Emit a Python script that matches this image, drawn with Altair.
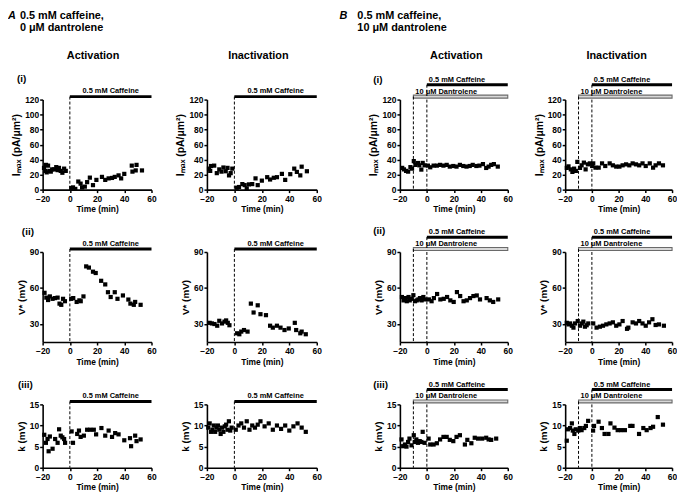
import altair as alt
import pandas as pd

FONT = "Liberation Sans"

# ---------------- data (time in min, values) ----------------
# A: 0.5 mM caffeine, 0 uM dantrolene
A_ACT_IMAX_T = [-19, -18, -17.5, -17, -16, -15, -14, -13, -11.5, -10, -9, -8, -6.7, -5.5, -4.2, -3,
                1, 2.3, 4, 6.2, 7.9, 9, 11, 12.7, 14.7, 17, 19.5, 23.6, 26, 28.5, 31, 33, 35.8, 37.7, 40, 45.5, 46, 48.4, 49, 53]
A_ACT_IMAX_V = [29, 25, 33, 23, 32, 25, 24, 27, 27, 30, 26, 29, 25, 22.5, 28, 25,
                2, 3, 1, 10.8, 8, 3, 4, 10, 16, 6, 13, 17, 13, 15, 15.6, 17, 19, 15, 21, 32, 24, 25.6, 33, 25.6]

A_INA_IMAX_T = [-18.5, -17.6, -17, -14.7, -12.8, -11, -9.4, -8, -6.3, -5, -3.9, -2.7, -1.5,
                1.7, 3.4, 5.8, 7.5, 9, 10.6, 13, 15.4, 17, 20, 23.9, 26, 28.7, 31, 34.6, 37, 40.7, 43.6, 45.5, 48, 49, 52.8]
A_INA_IMAX_V = [28, 25, 31.5, 32, 22, 27, 24, 29.5, 24.5, 29, 19, 22, 28,
                2.6, 3.5, 7.4, 6, 1.7, 7, 7.4, 15, 6, 12, 16.6, 13.5, 15.8, 16.6, 21, 13, 20.6, 28, 23.6, 19, 30.6, 24.5]

A_ACT_V_T = [-18.6, -17.3, -16, -14.7, -12.7, -11, -9, -7.6, -6.3, -5, -3.6,
             1, 2.5, 5, 7, 8, 10, 12, 14, 17, 19, 23, 26, 28, 30, 33, 35, 39, 43, 44.5, 47, 48, 52]
A_ACT_V_V = [56, 52, 50, 53, 51, 51.6, 52, 47, 46, 51, 49,
             51, 51.6, 48.4, 49.7, 49, 53, 78, 77, 73.6, 72.5, 66, 63, 56.5, 52.5, 56.5, 51, 53.8, 50.4, 47, 46, 48.4, 46]

A_INA_V_T = [-18, -16.4, -14.5, -12.5, -11, -9, -7.2, -6, -4.8, -3.6,
             2, 3.6, 5, 7, 9.6, 12, 14, 17, 19, 23, 26, 28, 31, 33.6, 36.5, 39.6, 44, 45, 48, 49, 52]
A_INA_V_V = [31, 30.5, 30, 28.6, 32.7, 30.5, 32, 33, 31, 29,
             22.3, 21.5, 23.7, 25, 23.7, 47, 39.6, 45.6, 38.2, 37.4, 28.6, 27, 28.6, 27, 25, 26.3, 31, 25, 22.3, 23.7, 21.5]

A_ACT_K_T = [-18.8, -17.6, -16.4, -15.6, -14.7, -12.7, -10.8, -9, -7.9, -6.7, -5.5, -4.2, -3.5,
             1.3, 2.3, 5.4, 6.7, 7.9, 10.3, 12.7, 15, 17.6, 19.3, 23.2, 26, 28.5, 31, 33.3, 35.8, 40, 44.2, 45, 48, 49, 52]
A_ACT_K_V = [7.8, 5.9, 6.8, 3.9, 7.4, 4.5, 6.8, 5.9, 9.1, 7.6, 7.2, 6.8, 5.9,
             8.6, 5.9, 8, 8.8, 7.3, 7.6, 9, 9, 9, 7.9, 9.4, 7.6, 8.8, 7.3, 8.2, 7.9, 6.5, 7, 5.1, 7.6, 6.3, 6.7]

A_INA_K_T = [-19, -18, -17, -16, -15, -14, -13, -12, -11, -10, -9, -8, -7, -6, -5, -4, -3, -2,
             1, 3, 5, 7, 9, 11, 13, 15, 17, 19, 22, 25, 28, 31, 34, 37, 40, 43, 46, 49, 52]
A_INA_K_V = [9.5, 10.5, 8.5, 9, 10, 8.5, 9.5, 10, 9, 8, 9.5, 8.5, 9.8, 10.2, 9, 11, 8.8, 9.5,
             9, 10, 10.5, 9.5, 11, 9, 10, 9.5, 10.2, 11, 9.8, 10.5, 9, 10, 9.2, 10, 8.8, 9.8, 10.5, 9.5, 8.5]

# B: 0.5 mM caffeine, 10 uM dantrolene
B_ACT_IMAX_T = [-18.3, -17, -15.4, -13.9, -12.2, -11, -9.7, -8.5, -6.6, -5.6, -4.1, -3.1, -1.7,
                0.8, 2.5, 5, 7.4, 9.8, 12.3, 14.7, 17, 19.6, 22, 24.5, 27, 29.4, 31.8, 34, 36.7, 39, 41.6, 44, 45.8, 47.7, 49.7, 52.6]
B_ACT_IMAX_V = [29, 27, 25, 24, 30, 28, 38, 33, 35.5, 32.4, 26.7, 35.6, 32.4,
                32, 29.8, 32, 32, 33, 32, 33, 30.7, 31.5, 30.7, 33, 31.5, 30.7, 31.5, 33, 31.5, 32, 34, 28.9, 30.7, 33, 34, 30.7]

B_INA_IMAX_T = [-18.8, -17.5, -15.8, -14.6, -13.3, -12, -10.9, -8.9, -7.7, -6, -4.7, -3, -1.5,
                0.2, 1, 2.7, 5.1, 7.6, 10, 13.3, 15.7, 18.2, 20.6, 23, 25.6, 28, 30.5, 33, 35.4, 37.9, 40.3, 43.3, 45.8, 47.7, 50.2, 53.2]
B_INA_IMAX_V = [29, 31, 27, 23.6, 28, 25, 37, 29, 32.4, 36, 27, 33.7, 35,
                31.5, 35, 29.3, 29.3, 35, 31.5, 35, 32.4, 30.7, 30.7, 32.4, 33.7, 32.4, 35, 33.7, 32.4, 35, 31.5, 35, 29.3, 32.4, 35, 32.4]

B_ACT_V_T = [-18.5, -17.3, -16, -14.9, -13.6, -12.7, -11.2, -10, -8.8, -7.5, -6.3, -5.1, -3.9, -2.6, -1.4,
             1.5, 3.5, 5.2, 7.6, 10, 12.5, 15, 17.4, 19.9, 22.3, 24.7, 27.2, 29.6, 32, 34.5, 37, 39.4, 44.3, 46.7, 49.2, 52.9]
B_ACT_V_V = [52.5, 49.7, 51.6, 49, 52.5, 49.7, 51, 54, 49, 49.7, 50.5, 51.6, 49.7, 52.5, 50.5,
             50.5, 49, 51.6, 55, 50.5, 51, 52.5, 49.7, 48.4, 56.6, 53.3, 49, 49.7, 51.6, 53.3, 53.8, 50.5, 51.6, 49.7, 48.4, 50.5]

B_INA_V_T = [-18.8, -17.5, -16.3, -15, -13.8, -12.6, -10.6, -8.9, -7.6, -6.4, -5.2, -3.9, -2.7,
             1, 3.5, 6, 8.3, 10.8, 13.3, 15.7, 18.2, 20.6, 23, 26.3, 27.3, 30.5, 33, 35.4, 37.9, 40.3, 42.8, 45.3, 47.7, 50.2, 53.9]
B_INA_V_V = [31, 29.7, 30.5, 28.6, 27, 30.5, 32.5, 28.6, 30.5, 32, 27.8, 29, 30.5,
             30.5, 27, 27.8, 28.6, 29.7, 30.5, 31.4, 28.6, 29.7, 32.5, 26, 27, 31.4, 30.5, 32.5, 30.5, 28.6, 31.4, 34, 29.2, 29.7, 28.6]

B_ACT_K_T = [-18.8, -17.6, -16.3, -15.1, -13.9, -12.9, -11.4, -9.7, -9, -7.8, -6.6, -5.3, -4.1, -3.1, -1.7,
             1.3, 2.5, 5, 7.4, 9.8, 12.3, 14.7, 17, 19.6, 22, 24.5, 28.2, 30, 33, 35.5, 38, 41, 44, 45.8, 47.7, 51.4]
B_ACT_K_V = [6.7, 5.1, 5.5, 5, 6.1, 6.9, 5.3, 7.7, 6.1, 6.7, 5.9, 6.3, 6.1, 8.5, 5.9,
             6.9, 5.5, 5.5, 5.8, 6.7, 7.3, 7.3, 6.6, 6.3, 7.3, 7.7, 5.5, 6.6, 5.8, 7.1, 6.9, 6.9, 7.1, 6.7, 6.6, 6.9]

B_INA_K_T = [-18.8, -18, -16.3, -15, -14.3, -13.1, -12.1, -10.2, -9, -7.7, -5.7, -4.5, -2.8,
             0.9, 1.6, 5, 7.5, 9.5, 12.4, 13.9, 16.9, 19.3, 21.8, 24.7, 28.7, 30.4, 35.3, 38.5, 41, 43.9, 45.8, 49.3, 53.2]
B_INA_K_V = [6.4, 9.1, 9.4, 10.5, 8.8, 8, 9.1, 8.8, 9.4, 8.9, 9.4, 9.9, 11.1,
             8.8, 9.9, 10.9, 9.4, 8, 8, 10.5, 9.5, 8.9, 8.9, 8.9, 9.9, 9.9, 8, 9.4, 8.9, 9.4, 9.7, 12, 10.2]

# treatments
CAFF_START, CAFF_END, CAFF_LABEL = [0], [60], ["0.5 mM Caffeine"]
DANT_START, DANT_END, DANT_LABEL = [-10], [60], ["10 \u03bcM Dantrolene"]

X_DOMAIN = [-20, 60]
X_TICKS = [-20, 0, 20, 40, 60]

ROWS = [
    dict(dom=[0, 120], ticks=[0, 20, 40, 60, 80, 100, 120], title="I\u2098\u2090\u2093 (pA/\u03bcm\u00b2)", h=91, tsize=10.5),
    dict(dom=[15, 90], ticks=[30, 60, 90], title="V* (mV)", h=91, tsize=10),
    dict(dom=[0, 15], ticks=[0, 5, 10, 15], title="k (mV)", h=64, tsize=10),
]
WIDTHS = [110, 111, 109, 108]
GAPS = [16, 44, 18]   # blank spacer columns between panels
COL_SPACING = 20
ROW_SPACING = 63

DATA = [
    [(A_ACT_IMAX_T, A_ACT_IMAX_V), (A_INA_IMAX_T, A_INA_IMAX_V), (B_ACT_IMAX_T, B_ACT_IMAX_V), (B_INA_IMAX_T, B_INA_IMAX_V)],
    [(A_ACT_V_T, A_ACT_V_V), (A_INA_V_T, A_INA_V_V), (B_ACT_V_T, B_ACT_V_V), (B_INA_V_T, B_INA_V_V)],
    [(A_ACT_K_T, A_ACT_K_V), (A_INA_K_T, A_INA_K_V), (B_ACT_K_T, B_ACT_K_V), (B_INA_K_T, B_INA_K_V)],
]

# free text labels attached to panels: (row, col) -> list of (text, x, y, size, align, style)
TEXTS = {
    (0, 0): [("A", -35, -84, 11, "left", "italic"),
             ("0.5 mM caffeine,", -23, -84, 11, "left", "normal"),
             ("0 \u03bcM dantrolene", -23, -72, 11, "left", "normal"),
             ("Activation", 51, -44, 11, "center", "normal"),
             ("(i)", -26, -21, 10, "left", "normal")],
    (0, 1): [("Inactivation", 52, -44, 11, "center", "normal")],
    (0, 2): [("B", -61, -84, 11, "left", "italic"),
             ("0.5 mM caffeine,", -43, -84, 11, "left", "normal"),
             ("10 \u03bcM dantrolene", -43, -72, 11, "left", "normal"),
             ("Activation", 57, -44, 11, "center", "normal"),
             ("(i)", -27, -20, 10, "left", "normal")],
    (0, 3): [("Inactivation", 52, -44, 11, "center", "normal")],
    (1, 0): [("(ii)", -21, -20, 10, "left", "normal")],
    (1, 2): [("(ii)", -27, -21, 10, "left", "normal")],
    (2, 0): [("(iii)", -25, -20, 10, "left", "normal")],
    (2, 2): [("(iii)", -27, -20, 10, "left", "normal")],
}

X_AXIS = alt.Axis(values=X_TICKS, title="Time (min)")


def panel(r, c):
    row = ROWS[r]
    w, h = WIDTHS[c], row["h"]
    t, v = DATA[r][c]
    df = pd.DataFrame({"t": t, "v": v})
    xs = alt.Scale(domain=X_DOMAIN, nice=False, zero=False)
    ys = alt.Scale(domain=row["dom"], nice=False, zero=False)
    pts = alt.Chart(df).mark_square(size=18, color="black", opacity=1).encode(
        x=alt.X("t:Q", scale=xs, axis=X_AXIS),
        y=alt.Y("v:Q", scale=ys, axis=alt.Axis(values=row["ticks"], title=row["title"],
                                               titleFontSize=row["tsize"])),
    )
    layers = [pts]
    caff = pd.DataFrame({"start": CAFF_START, "end": CAFF_END, "label": CAFF_LABEL})
    caff["mid"] = (caff["start"] + caff["end"]) / 2

    def X(field):
        return alt.X(field, scale=xs, axis=X_AXIS)

    if c < 2:
        bar_y = -3
        layers.append(alt.Chart(caff).mark_rule(strokeWidth=3, color="black", strokeCap="butt").encode(
            x=X("start:Q"), x2="end:Q", y=alt.value(bar_y)))
        layers.append(alt.Chart(caff).mark_rule(strokeWidth=1, color="black", strokeDash=[3, 2]).encode(
            x=X("start:Q"), y=alt.value(bar_y), y2=alt.value(h)))
        layers.append(alt.Chart(caff).mark_text(font=FONT, fontSize=7.5, fontWeight="bold",
                                                align="center", baseline="middle").encode(
            x=X("mid:Q"), y=alt.value(-8.5), text="label:N"))
    else:
        dant = pd.DataFrame({"start": DANT_START, "end": DANT_END, "label": DANT_LABEL})
        cb = -15
        layers.append(alt.Chart(caff).mark_rule(strokeWidth=3, color="black", strokeCap="butt").encode(
            x=X("start:Q"), x2="end:Q", y=alt.value(cb)))
        layers.append(alt.Chart(caff).mark_rule(strokeWidth=1, color="black", strokeDash=[3, 2]).encode(
            x=X("start:Q"), y=alt.value(cb), y2=alt.value(h)))
        layers.append(alt.Chart(caff).mark_text(font=FONT, fontSize=7.5, fontWeight="bold",
                                                align="left", baseline="middle", dx=2).encode(
            x=X("start:Q"), y=alt.value(-20), text="label:N"))
        layers.append(alt.Chart(dant).mark_rect(fill="#d8d8d8", stroke="#6a6a6a", strokeWidth=1.1).encode(
            x=X("start:Q"), x2="end:Q", y=alt.value(-4.5), y2=alt.value(-1.5)))
        layers.append(alt.Chart(dant).mark_rule(strokeWidth=1, color="black", strokeDash=[3, 2]).encode(
            x=X("start:Q"), y=alt.value(-3), y2=alt.value(h)))
        layers.append(alt.Chart(dant).mark_text(font=FONT, fontSize=7.5, fontWeight="bold",
                                                align="left", baseline="middle", dx=2).encode(
            x=X("start:Q"), y=alt.value(-8), text="label:N"))
    for (txt, tx, ty, fs, al, st) in TEXTS.get((r, c), []):
        tdf = pd.DataFrame({"label": [txt]})
        layers.append(alt.Chart(tdf).mark_text(font=FONT, fontSize=fs, fontWeight="bold", fontStyle=st,
                                               align=al, baseline="middle", color="black").encode(
            x=alt.value(tx), y=alt.value(ty), text="label:N"))
    return alt.layer(*layers).properties(width=w, height=h)


def spacer(w, h):
    return alt.Chart(pd.DataFrame({"a": [0]})).mark_text(text="").encode(
        x=alt.value(0), y=alt.value(0)).properties(width=w, height=h)


cells = []
for r in range(3):
    for c in range(4):
        cells.append(panel(r, c))
        if c < 3:
            cells.append(spacer(GAPS[c], ROWS[r]["h"]))

chart = alt.concat(
    *cells, columns=7, bounds="flush",
    spacing={"row": ROW_SPACING, "column": COL_SPACING}, padding=0,
).configure_view(stroke=None).configure_axis(
    grid=False, domainColor="black", domainWidth=1.6, tickColor="black", tickWidth=1.5, tickSize=3,
    labelFont=FONT, labelFontWeight="bold", labelFontSize=8.5, labelColor="black", labelPadding=1,
    titleFont=FONT, titleFontWeight="bold", titleFontSize=8.5, titleColor="black", titlePadding=3,
).configure_axisX(labelFlush=False, labelPadding=2, titlePadding=2).configure_axisY(labelFlush=False)

chart.save("out.html", embed_options={"renderer": "svg", "actions": False})
